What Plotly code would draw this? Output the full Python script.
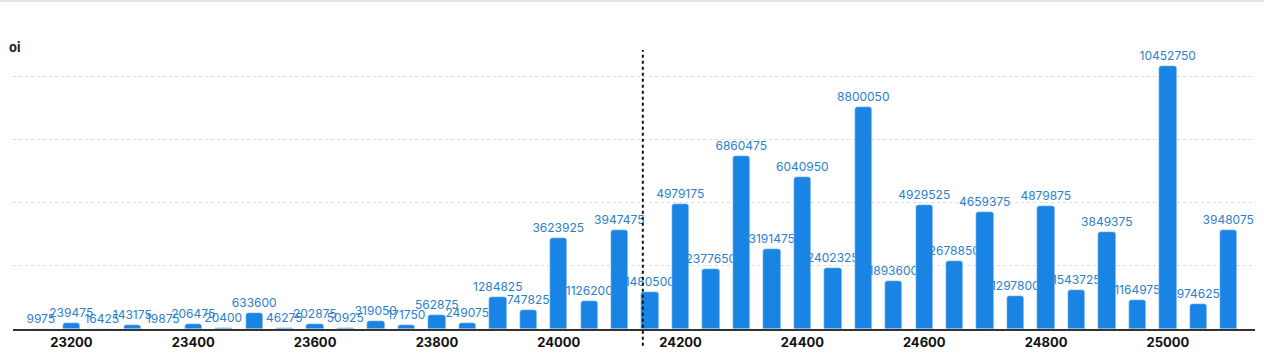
import plotly.graph_objects as go

strikes = [23150, 23200, 23250, 23300, 23350, 23400, 23450, 23500, 23550, 23600,
           23650, 23700, 23750, 23800, 23850, 23900, 23950, 24000, 24050, 24100,
           24150, 24200, 24250, 24300, 24350, 24400, 24450, 24500, 24550, 24600,
           24650, 24700, 24750, 24800, 24850, 24900, 24950, 25000, 25050, 25100]
oi = [9975, 239475, 16425, 143175, 19875, 206475, 20400, 633600, 46275, 202875,
      50925, 319050, 171750, 562875, 249075, 1284825, 747825, 3623925, 1126200, 3947475,
      1480500, 4979175, 2377650, 6860475, 3191475, 6040950, 2402325, 8800050, 1893600, 4929525,
      2678850, 4659375, 1297800, 4879875, 1543725, 3849375, 1164975, 10452750, 974625, 3948075]
tick_vals = [23200, 23400, 23600, 23800, 24000, 24200, 24400, 24600, 24800, 25000]
spot = 24138

fig = go.Figure()
fig.add_trace(go.Bar(
    x=strikes, y=oi, width=28.5,
    marker=dict(color="#1a84e5", cornerradius=3),
    text=[str(v) for v in oi], textposition="outside", cliponaxis=False,
    constraintext="none",
    textfont=dict(family="Inter, Open Sans, sans-serif", size=12, color="#2a80cc"),
    hoverinfo="x+y",
))

fig.add_shape(type="line", xref="x", yref="paper", x0=spot, x1=spot, y0=-0.06, y1=1.0,
              line=dict(color="#111111", width=2, dash="dot"))
# thin top border
fig.add_shape(type="line", xref="paper", yref="paper", x0=-0.02, x1=1.02,
              y0=(329 - 1) / 279, y1=(329 - 1) / 279,
              line=dict(color="#e4e4e4", width=2))

fig.add_annotation(text="<b>oi</b>", xref="paper", yref="paper",
                   x=-6 / 1243, y=(329 - 47) / 279, xanchor="left", yanchor="middle",
                   showarrow=False, font=dict(family="Inter, sans-serif", size=13, color="#222"))

fig.update_layout(
    width=1264, height=353,
    margin=dict(l=13, r=9, t=50, b=24),
    paper_bgcolor="white", plot_bgcolor="white",
    showlegend=False,
    bargap=0,
    xaxis=dict(range=[23104, 25143], tickvals=tick_vals, ticktext=[str(t) for t in tick_vals],
               automargin=False,
               showgrid=False, zeroline=False, showline=True, linecolor="#333333", linewidth=2,
               ticks="", tickfont=dict(family="Inter, Open Sans, sans-serif", size=13, color="#111", weight="bold")),
    yaxis=dict(range=[0, 11.07e6], dtick=2.5e6, showticklabels=False, zeroline=False,
               automargin=False,
               showgrid=True, gridcolor="#dcdcdc", griddash="dot", gridwidth=1),
)

fig.write_html("out.html")
